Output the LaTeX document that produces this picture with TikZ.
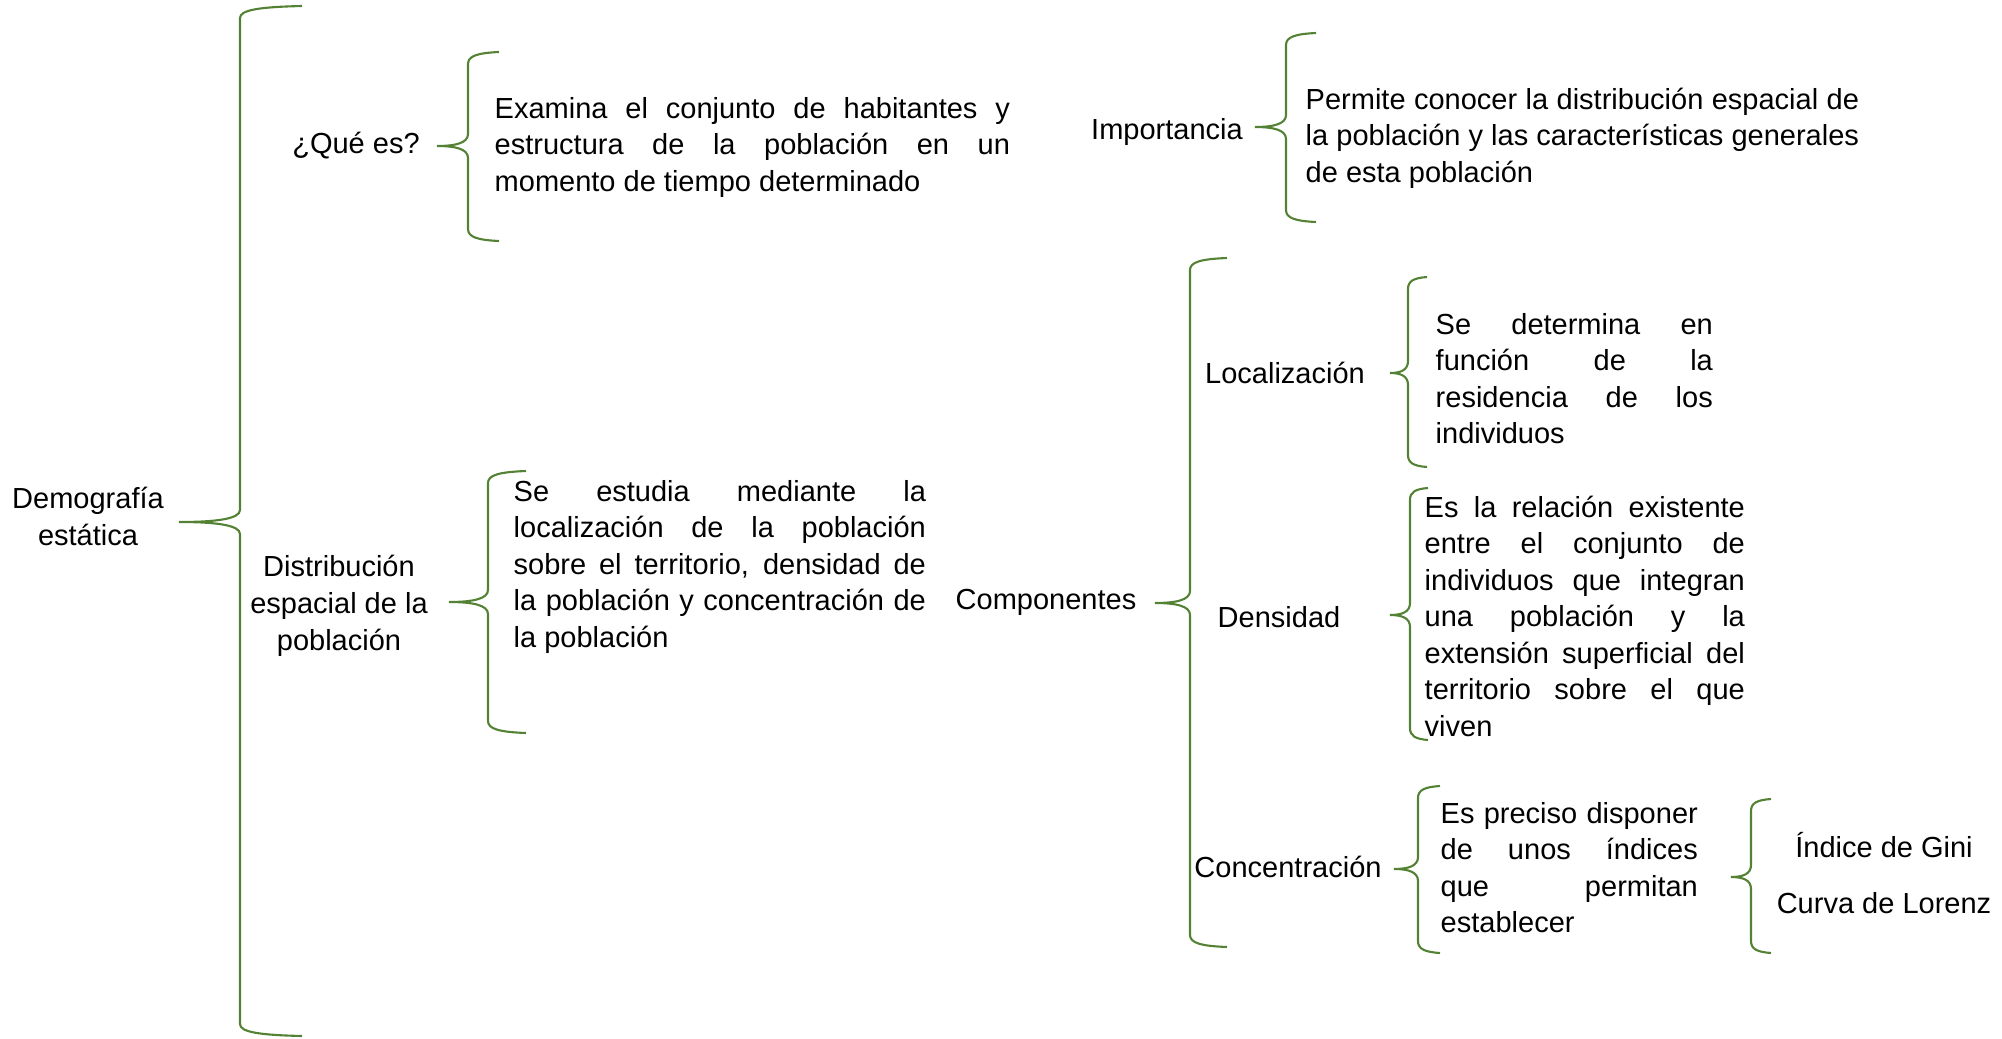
\documentclass[tikz,border=0pt]{standalone}
\usepackage{fontspec}
\setmainfont{Liberation Sans}
\definecolor{verde}{RGB}{84,130,53}
\newcommand{\letra}{\fontsize{8.25}{10.4}\selectfont\hyphenpenalty=10000\tolerance=10000\hbadness=10000}
\tikzset{
	llave/.style={verde, line width=0.6pt},
	etiqueta/.style={inner sep=0pt, align=center, anchor=base, font=\letra},
	texto/.style={inner sep=0pt, align=justify, anchor=base west, font=\letra},
}
\newcommand{\llave}[6]{%
	\draw[llave] (#6,#2) .. controls ({#1+0.3*(#6-#1)},#2+1) and (#1,#2+4) .. (#1,#2+12)
		-- (#1,#4-12) .. controls (#1,#4-3) and ({#1-0.4*(#1-#5)},#4) .. (#5,#4)
		.. controls ({#1-0.4*(#1-#5)},#4) and (#1,#4+3) .. (#1,#4+12)
		-- (#1,#3-12) .. controls (#1,#3-4) and ({#1+0.3*(#6-#1)},#3-1) .. (#6,#3);}

\begin{document}
\begin{tikzpicture}[x=0.01cm, y=-0.01cm]
	\useasboundingbox (0,0) rectangle (2002,1039);
	\node[etiqueta] (demo) at (88,545) {Demografía\\estática};
	\llave{240}{6}{1036}{522}{179}{302}
	\node[etiqueta] (que) at (356,153) {¿Qué es?};
	\llave{468}{52}{241}{146}{437}{499}
	\node[texto, text width=5.15cm] (examina) at (494,118) {Examina el conjunto de habitantes y\linebreak estructura de la población en un\linebreak momento de tiempo determinado};
	\node[etiqueta] (dist) at (339,650) {Distribución\\espacial de la\\población};
	\llave{488}{471}{733}{602}{449}{526}
	\node[texto, text width=4.12cm] (estudia) at (513,501) {Se estudia mediante la\linebreak localización de la población\linebreak sobre el territorio, densidad de\linebreak la población y concentración de\linebreak la población};
	\node[etiqueta] (comp) at (1046,609) {Componentes};
	\llave{1190}{258}{947}{603}{1155}{1227}
	\node[etiqueta] (imp) at (1167,139) {Importancia};
	\llave{1286}{33}{222}{127}{1255}{1316}
	\node[texto, text width=5.53cm] (permite) at (1305,109) {Permite conocer la distribución espacial de\linebreak la población y las características generales\linebreak de esta población};
	\node[etiqueta] (loc) at (1285,383) {Localización};
	\llave{1408}{277}{467}{373}{1390}{1427}
	\node[texto, text width=2.77cm] (determina) at (1435,334) {Se determina en\linebreak función de la\linebreak residencia de los\linebreak individuos};
	\node[etiqueta] (dens) at (1279,627) {Densidad};
	\llave{1410}{488}{740}{615}{1390}{1428}
	\node[texto, text width=3.2cm] (relacion) at (1424,517) {Es la relación existente\linebreak entre el conjunto de\linebreak individuos que integran\linebreak una población y la\linebreak extensión superficial del\linebreak territorio sobre el que\linebreak viven};
	\node[etiqueta] (conc) at (1288,877) {Concentración};
	\llave{1418}{786}{953}{869}{1394}{1440}
	\node[texto, text width=2.57cm] (preciso) at (1440,823) {Es preciso disponer\linebreak de unos índices\linebreak que permitan\linebreak establecer};
	\llave{1751}{799}{953}{877}{1731}{1771}
	\node[etiqueta] (gini) at (1884,857) {Índice de Gini};
	\node[etiqueta] (lorenz) at (1884,913) {Curva de Lorenz};
\end{tikzpicture}
\end{document}
